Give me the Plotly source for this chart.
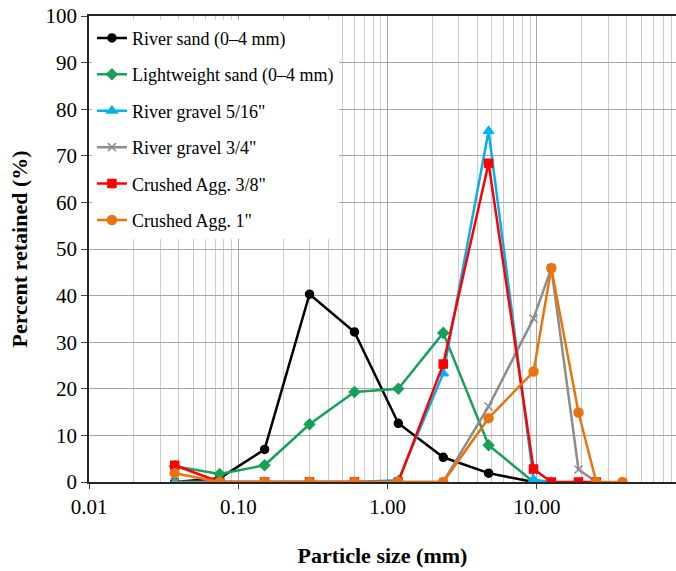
import numpy as np
import plotly.graph_objects as go

# Sieve openings (mm); 0.0375 stands for the pan
sieve_mm = [0.0375, 0.075, 0.15, 0.3, 0.6, 1.18, 2.36, 4.75, 9.5, 12.5, 19, 25, 37.5]

river_sand = [0.0, 0.8, 7.0, 40.3, 32.2, 12.6, 5.3, 1.9, 0.0]
lightweight_sand = [3.4, 1.7, 3.6, 12.4, 19.3, 20.0, 32.0, 7.9, 0.0]
river_gravel_516 = [0.0, 0.0, 0.0, 0.0, 0.0, 0.4, 23.3, 75.3, 0.5, 0.0]
river_gravel_34 = [0.0, 0.0, 0.0, 0.0, 0.0, 0.0, 0.0, 16.2, 35.1, 45.9, 2.7, 0.0]
crushed_38 = [3.6, 0.0, 0.0, 0.0, 0.0, 0.0, 25.3, 68.4, 2.8, 0.0, 0.0, 0.0]
crushed_1 = [1.9, 0.0, 0.0, 0.0, 0.0, 0.0, 0.0, 13.7, 23.7, 45.9, 14.9, 0.0, 0.0]

x_tickvals = [0.01, 0.1, 1, 10]
x_ticktext = ["0.01", "0.10", "1.00", "10.00"]

series = [
    ("River sand (0\u20134 mm)", river_sand, "#000000", "circle", 8),
    ("Lightweight sand (0\u20134 mm)", lightweight_sand, "#16A05A", "diamond", 8),
    ("River gravel 5/16\"", river_gravel_516, "#00B0F0", "triangle-up", 9),
    ("River gravel 3/4\"", river_gravel_34, "#8C8C8C", "x-thin-open", 8),
    ("Crushed Agg. 3/8\"", crushed_38, "#FF0000", "square", 8),
    ("Crushed Agg. 1\"", crushed_1, "#E8730F", "circle", 9),
]

fig = go.Figure()
for i, (name, vals, color, symbol, size) in enumerate(series):
    fig.add_trace(go.Scatter(
        x=sieve_mm[:len(vals)], y=vals, name=name, mode="lines+markers",
        legendgroup=f"g{i}",
        line=dict(color=color, width=2.5),
        marker=dict(symbol=symbol, size=size, color=color,
                    line=dict(color=color, width=1.5)),
    ))

serif = "Liberation Serif, Times New Roman, serif"

fig.update_layout(
    width=676, height=571,
    margin=dict(l=89, r=0, t=16, b=89),
    paper_bgcolor="white", plot_bgcolor="white",
    font=dict(family=serif, color="#000000"),
    showlegend=True,
    legend=dict(x=0.005, y=0.992, xanchor="left", yanchor="top",
                bgcolor="white", borderwidth=0, tracegroupgap=10,
                font=dict(family=serif, size=18, color="#000000"),
                itemwidth=30),
    xaxis=dict(
        type="log", range=[-2, 1.932],
        tickmode="array", tickvals=x_tickvals, ticktext=x_ticktext,
        tickfont=dict(family=serif, size=21),
        ticks="outside", ticklen=5, tickcolor="#404040",
        showgrid=True, gridcolor="#A6A6A6", gridwidth=1,
        minor=dict(dtick="D1", showgrid=True, gridcolor="#CCCCCC", gridwidth=1, ticks=""),
        showline=True, linecolor="#262626", linewidth=1.5, mirror=True,
        zeroline=False,
        title=dict(text="<b>Particle size (mm)</b>", standoff=30,
                   font=dict(family=serif, size=22)),
    ),
    yaxis=dict(
        range=[0, 100], dtick=10,
        tickfont=dict(family=serif, size=21),
        ticks="outside", ticklen=6, tickcolor="#404040",
        showgrid=True, gridcolor="#A6A6A6", gridwidth=1,
        showline=True, linecolor="#262626", linewidth=1.5,
        zeroline=False,
        title=dict(text="<b>Percent retained (%)</b>", standoff=12,
                   font=dict(family=serif, size=22)),
    ),
)

fig.write_html("out.html")
